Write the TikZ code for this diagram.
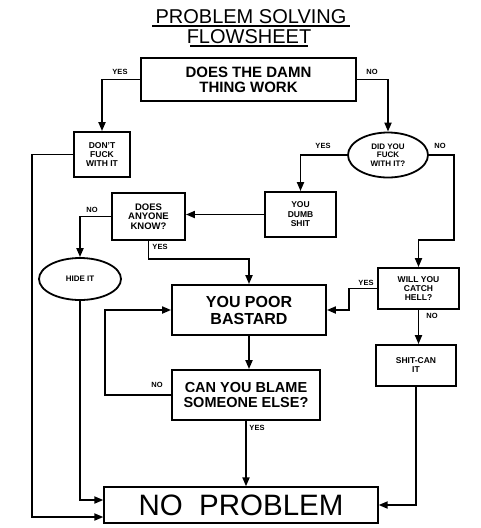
\documentclass[tikz,border=0pt]{standalone}
\usepackage{fontspec}
\setmainfont{Liberation Sans}
\usetikzlibrary{arrows.meta,shapes.geometric}

\begin{document}
\begin{tikzpicture}
	[
		x=1pt,y=-1pt,
		box/.style={draw,line width=1.8pt,inner sep=0pt,align=center,font=\bfseries},
		oval/.style={box,ellipse},
		lbl/.style={font=\bfseries\fontsize{7.5}{8}\selectfont,inner sep=0pt},
		arr/.style={line width=1.8pt,-{Triangle[length=9pt,width=7pt]}},
		wire/.style={line width=1.8pt}
	]
		\useasboundingbox (0,0) rectangle (480,528);

		% Draw title.
		\node[font=\fontsize{20}{21}\selectfont,inner sep=0pt] (title1) at (251,17) {PROBLEM SOLVING};
		\node[font=\fontsize{20}{21}\selectfont,inner sep=0pt] (title2) at (249,37) {FLOWSHEET};
		\draw[line width=1.6pt] (152,26) -- (350,26);
		\draw[line width=1.6pt] (190,46) -- (308,46);

		% Draw boxes.
		\node[box,minimum width=215,minimum height=43,font=\bfseries\fontsize{15}{15}\selectfont] (work) at (248.5,79.5) {DOES THE DAMN\\THING WORK};
		\node[box,minimum width=56,minimum height=45,font=\bfseries\fontsize{8.5}{9}\selectfont] (dont) at (102,154.5) {DON'T\\FUCK\\WITH IT};
		\node[oval,minimum width=80,minimum height=45,font=\bfseries\fontsize{8}{8.5}\selectfont] (fuck) at (388,155) {DID YOU\\FUCK\\WITH IT?};
		\node[box,minimum width=71,minimum height=45,font=\bfseries\fontsize{8.5}{9.5}\selectfont] (dumb) at (300.5,214.5) {YOU\\DUMB\\SHIT};
		\node[box,minimum width=73,minimum height=47,font=\bfseries\fontsize{9.5}{9.5}\selectfont] (anyone) at (148.5,216.5) {DOES\\ANYONE\\KNOW?};
		\node[oval,minimum width=82,minimum height=42,font=\bfseries\fontsize{8}{8}\selectfont] (hide) at (80,279) {HIDE IT};
		\node[box,minimum width=154,minimum height=50,font=\bfseries\fontsize{16}{17}\selectfont] (poor) at (249,310) {YOU POOR\\BASTARD};
		\node[box,minimum width=148,minimum height=50,font=\bfseries\fontsize{14.5}{15}\selectfont] (blame) at (246,395) {CAN YOU BLAME\\SOMEONE ELSE?};
		\node[box,minimum width=81,minimum height=41,font=\bfseries\fontsize{8.5}{9}\selectfont] (hell) at (418.5,288.5) {WILL YOU\\CATCH\\HELL?};
		\node[box,minimum width=80,minimum height=41,font=\bfseries\fontsize{8.5}{9}\selectfont] (shit) at (416,365.5) {SHIT-CAN\\IT};
		\node[box,line width=1.3pt,minimum width=274,minimum height=36,font=\fontsize{29.5}{30}\selectfont] (noprob) at (241,505) {NO\ \ PROBLEM};

		% Draw answers.
		\node[lbl] (y1) at (120,72) {YES};
		\node[lbl] (n1) at (372,72) {NO};
		\node[lbl] (y2) at (323,146) {YES};
		\node[lbl] (n2) at (440,146) {NO};
		\node[lbl] (n3) at (92,210) {NO};
		\node[lbl] (y3) at (160,247) {YES};
		\node[lbl] (y4) at (366,283) {YES};
		\node[lbl] (n4) at (432,316) {NO};
		\node[lbl] (n5) at (157,385) {NO};
		\node[lbl] (y5) at (257,428) {YES};

		% Connect boxes.
		\draw[arr] (work.west) -| (dont.north);
		\draw[arr] (work.east) -| (fuck.north);
		\draw[arr] (dont.west) -| (32,517) -- ([yshift=-12pt]noprob.west);
		\draw[arr] (fuck.west) -| (dumb.north);
		\draw[arr] (fuck.east) -| (454,240) -| (hell.north);
		\draw[arr] (dumb.west) -- (dumb.west -| anyone.east);
		\draw[arr] (anyone.west) -| (hide.north);
		\draw[arr] (anyone.south) -- ++(0,18) -| (poor.north);
		\draw[arr] (hide.south) |- ([yshift=5pt]noprob.west);
		\draw[arr] (poor.south) -- (poor.south |- blame.north);
		\draw[arr] (blame.west) -- ++(-66,0) |- (poor.west);
		\draw[arr] (blame.south) -- (blame.south |- noprob.north);
		\draw[arr] (hell.west) -- ++(-28,0) |- (poor.east);
		\draw[arr] (hell.south) -- (hell.south |- shit.north);
		\draw[arr] (shit.south) |- (noprob.east);
	\end{tikzpicture}
\end{document}
